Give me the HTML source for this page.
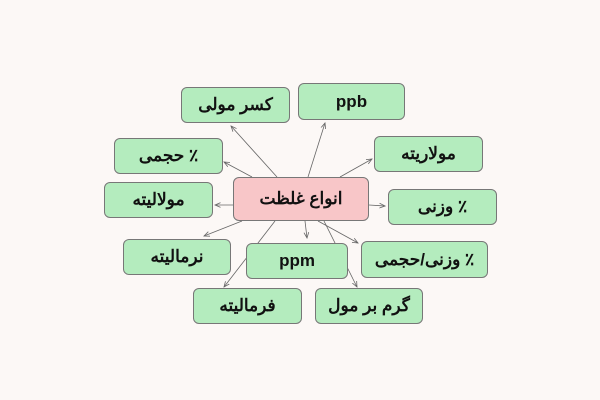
<!DOCTYPE html>
<html><head><meta charset="utf-8"><style>
body{margin:0;width:600px;height:400px;background:#fcf8f6;position:relative;overflow:hidden;font-family:"Liberation Sans","Noto Sans CJK SC",sans-serif}
.b{position:absolute;box-sizing:border-box;background:#b4ecbe;border:1px solid #777;border-radius:6px;display:flex;align-items:center;justify-content:center;font-size:17px;font-weight:bold;color:#111;direction:rtl}
.c{background:#f8c6c8}
svg{position:absolute;left:0;top:0}
</style></head><body>
<svg width="600" height="400"><defs><marker id="a" markerWidth="8" markerHeight="8" refX="7" refY="4" orient="auto"><path d="M0,1 L7,4 L0,7" fill="none" stroke="#666" stroke-width="1"/></marker></defs>
<g stroke="#666" stroke-width="0.8" marker-end="url(#a)">
<line x1="277" y1="177" x2="231" y2="126"/>
<line x1="308" y1="177" x2="325" y2="123"/>
<line x1="340" y1="177" x2="372" y2="159"/>
<line x1="252" y1="177" x2="224" y2="162"/>
<line x1="233" y1="205" x2="215" y2="205"/>
<line x1="369" y1="205" x2="385" y2="206"/>
<line x1="242" y1="221" x2="204" y2="236"/>
<line x1="305" y1="221" x2="307" y2="238"/>
<line x1="318" y1="221" x2="358" y2="243"/>
<line x1="275" y1="221" x2="224" y2="287"/>
<line x1="324" y1="221" x2="357" y2="287"/>
</g></svg>
<div class="b" style="left:181px;top:87px;width:109px;height:36px">کسر مولی</div>
<div class="b" style="left:298px;top:83px;width:107px;height:37px">ppb</div>
<div class="b" style="left:374px;top:136px;width:109px;height:36px">مولاریته</div>
<div class="b" style="left:114px;top:138px;width:109px;height:36px">٪ حجمی</div>
<div class="b c" style="left:233px;top:177px;width:136px;height:44px">انواع غلظت</div>
<div class="b" style="left:104px;top:182px;width:109px;height:36px">مولالیته</div>
<div class="b" style="left:388px;top:189px;width:109px;height:36px">٪ وزنی</div>
<div class="b" style="left:123px;top:239px;width:108px;height:36px">نرمالیته</div>
<div class="b" style="left:246px;top:243px;width:102px;height:36px">ppm</div>
<div class="b" style="left:361px;top:241px;width:127px;height:37px">٪ وزنی/حجمی</div>
<div class="b" style="left:193px;top:288px;width:109px;height:36px">فرمالیته</div>
<div class="b" style="left:315px;top:288px;width:108px;height:36px">گرم بر مول</div>
</body></html>
